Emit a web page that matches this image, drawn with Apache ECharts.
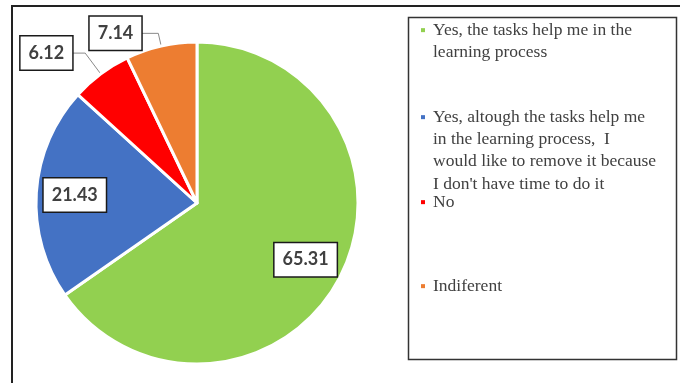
<!DOCTYPE html>
<html><head><meta charset="utf-8">
<script src="https://cdn.jsdelivr.net/npm/echarts@6/dist/echarts.min.js"></script>
<style>html,body{margin:0;padding:0;background:#fff}#c{width:680px;height:383px}</style>
</head><body><div id="c"></div>
<script>
const categories = [
  "Yes, the tasks help me in the learning process",
  "Yes, altough the tasks help me in the learning process,  I would like to remove it because I don't have time to do it",
  "No",
  "Indiferent"
];
const values = [65.31, 21.43, 6.12, 7.14];
const colors = ['#92D050', '#4472C4', '#FF0000', '#ED7D31'];
const legendLines = [
  ["Yes, the tasks help me in the", "learning process"],
  ["Yes, altough the tasks help me", "in the learning process,  I", "would like to remove it because", "I don't have time to do it"],
  ["No"],
  ["Indiferent"]
];

const chart = echarts.init(document.getElementById('c'), null, {renderer: 'canvas'});

const legendTops = [19, 106, 191, 275];
const rich = {
  t: {fontFamily: 'Liberation Serif', fontSize: 17.5, color: '#404040', lineHeight: 22.3, verticalAlign: 'middle'},
  g: {width: 8, height: 4},
  s: {width: 12, height: 4}
};
colors.forEach((c, i) => { rich['m' + i] = {width: 4, height: 4, backgroundColor: c, verticalAlign: 'middle'}; });

const legends = categories.map((name, i) => ({
  top: legendTops[i], left: 415, padding: 0, orient: 'vertical',
  itemWidth: 0, itemHeight: 0, icon: 'rect', selectedMode: false,
  data: [name],
  formatter: () => legendLines[i].map((l, j) => (j === 0 ? '{m' + i + '|}{g|}' : '{s|}') + '{t|' + l + '}').join('\n'),
  textStyle: {fontFamily: 'Liberation Serif', fontSize: 17.5, color: '#404040', lineHeight: 22.3, rich: rich}
}));

const boxLabel = {
  backgroundColor: '#fff', borderColor: '#1a1a1a', borderWidth: 1.5,
  padding: [8, 8, 7, 8], fontFamily: 'Lato', fontWeight: 'bold', fontSize: 18, color: '#404040',
  formatter: '{c}'
};
const len1 = [0, 0, 26, 13];
const len2 = [0, 0, 13, 17];

chart.setOption({
  animation: false,
  backgroundColor: '#fff',
  legend: legends,
  graphic: [
    {type: 'polyline', shape: {points: [[12, 383], [12, 6], [680, 6]]}, style: {fill: null, stroke: '#222', lineWidth: 2}, z: 100},
    {type: 'rect', shape: {x: 408.5, y: 17.5, width: 268, height: 342}, style: {fill: null, stroke: '#333', lineWidth: 1.5}, z: 100}
  ],
  series: [
    {
      type: 'pie', center: [197, 203], radius: [0, 161], startAngle: 90, clockwise: true,
      avoidLabelOverlap: false,
      emphasis: {disabled: true},
      itemStyle: {borderColor: '#fff', borderWidth: 3},
      label: Object.assign({position: 'outside', distanceToLabelLine: 0}, boxLabel),
      labelLine: {show: true, lineStyle: {color: '#8a8a8a', width: 1}},
      data: values.map((v, i) => ({
        value: v, name: categories[i], itemStyle: {color: colors[i]},
        label: {show: i >= 2},
        labelLine: {show: i >= 2, length: len1[i], length2: len2[i]}
      }))
    },
    {
      type: 'pie', center: [197, 203], radius: [78, 161], startAngle: 90, clockwise: true,
      silent: true, avoidLabelOverlap: false,
      emphasis: {disabled: true},
      itemStyle: {color: 'rgba(0,0,0,0)', borderWidth: 0},
      label: Object.assign({position: 'inside'}, boxLabel),
      labelLine: {show: false},
      data: values.map((v, i) => ({
        value: v, name: categories[i],
        itemStyle: {color: 'rgba(0,0,0,0)'},
        label: {show: i < 2}
      }))
    }
  ]
});
</script>
</body></html>
